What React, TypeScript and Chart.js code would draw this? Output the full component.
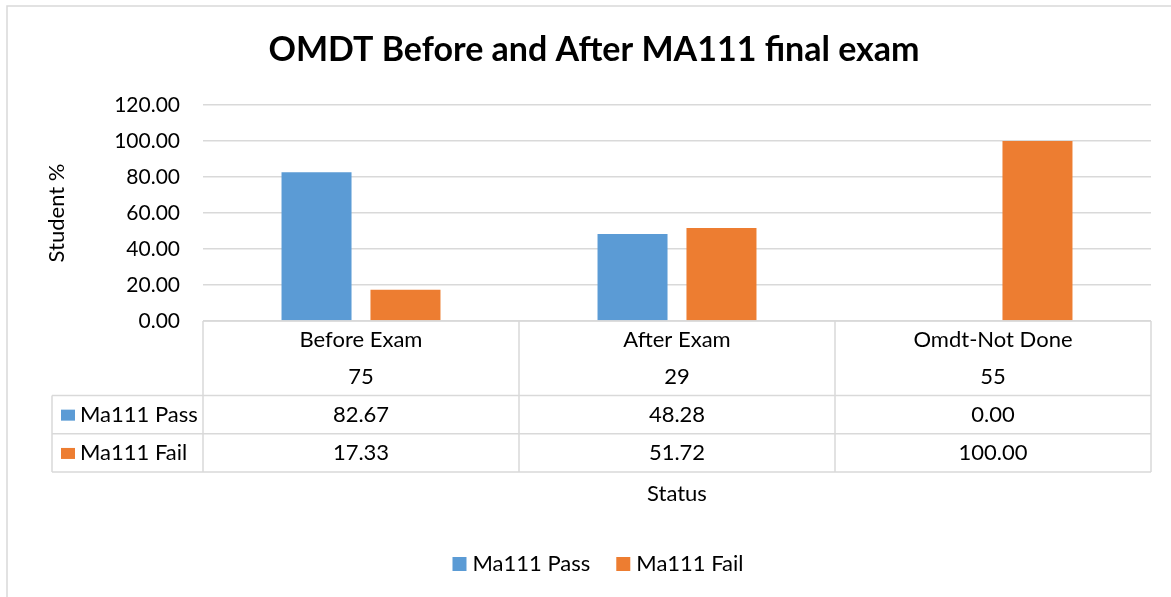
import { useEffect, useRef } from 'react';
import { Chart, registerables } from 'chart.js';

Chart.register(...registerables);

const TITLE = 'OMDT Before and After MA111 final exam';
const categories = ['Before Exam', 'After Exam', 'Omdt-Not Done'];
const studentCounts = [75, 29, 55];
const passValues = [82.67, 48.28, 0.0];
const failValues = [17.33, 51.72, 100.0];
const seriesNames = ['Ma111 Pass', 'Ma111 Fail'];
const seriesColors = ['#5B9BD5', '#ED7D31'];
const yMin = 0;
const yMax = 120;
const yStep = 20;
const xAxisTitle = 'Status';
const yAxisTitle = 'Student %';

const FONT = 'Lato, "Open Sans", sans-serif';
const GRID = '#d9d9d9';
const TEXT = '#000000';
const TEXT_SIZE = 22;

const tableLegendPlugin = {
  id: 'tableLegend',
  beforeDraw(chart: any) {
    const { ctx } = chart;
    ctx.save();
    ctx.strokeStyle = GRID;
    ctx.lineWidth = 1.5;
    ctx.beginPath();
    ctx.moveTo(7, chart.height + 2);
    ctx.lineTo(7, 6);
    ctx.lineTo(chart.width + 2, 6);
    ctx.stroke();
    ctx.restore();
  },
  afterDraw(chart: any) {
    const { ctx, chartArea } = chart;
    const xs = chart.scales.x;
    const labels = chart.data.labels as string[];
    const n = labels.length;
    const colW = (xs.right - xs.left) / n;
    const top = chartArea.bottom;
    const headerBottom = top + 74.5;
    const rowH = 38.3;
    const tableLeft = 52;
    const datasets = chart.data.datasets;
    const bottom = headerBottom + rowH * datasets.length;

    ctx.save();
    ctx.strokeStyle = GRID;
    ctx.lineWidth = 1.5;
    ctx.beginPath();
    ctx.moveTo(xs.left, top);
    ctx.lineTo(xs.right, top);
    for (let i = 0; i <= n; i++) {
      const x = xs.left + i * colW;
      ctx.moveTo(x, top);
      ctx.lineTo(x, bottom);
    }
    ctx.moveTo(tableLeft, headerBottom);
    ctx.lineTo(tableLeft, bottom);
    for (let r = 0; r <= datasets.length; r++) {
      const y = headerBottom + r * rowH;
      ctx.moveTo(tableLeft, y);
      ctx.lineTo(xs.right, y);
    }
    ctx.stroke();

    ctx.fillStyle = TEXT;
    ctx.font = `${TEXT_SIZE}px ${FONT}`;
    ctx.textAlign = 'center';
    ctx.textBaseline = 'middle';
    labels.forEach((lab, i) => {
      const cx = xs.getPixelForValue(i);
      ctx.fillText(lab, cx, top + 19);
      ctx.fillText(String(studentCounts[i]), cx, top + 56);
      datasets.forEach((ds: any, r: number) => {
        ctx.fillText(Number(ds.data[i]).toFixed(2), cx, headerBottom + rowH * (r + 0.5));
      });
    });
    datasets.forEach((ds: any, r: number) => {
      const cy = headerBottom + rowH * (r + 0.5);
      ctx.fillStyle = ds.backgroundColor;
      ctx.fillRect(61, cy - 5, 14, 11);
      ctx.fillStyle = TEXT;
      ctx.textAlign = 'left';
      ctx.fillText(ds.label, 80, cy);
    });

    ctx.textAlign = 'center';
    ctx.fillText(xAxisTitle, (xs.left + xs.right) / 2, 494);

    // legend
    const box = 14;
    const gapText = 6;
    const gapItem = 26;
    const widths = datasets.map((ds: any) => box + gapText + ctx.measureText(ds.label).width);
    const total = widths.reduce((a: number, b: number) => a + b, 0) + gapItem * (datasets.length - 1);
    let lx = 598 - total / 2;
    const ly = 564;
    datasets.forEach((ds: any, r: number) => {
      ctx.fillStyle = ds.backgroundColor;
      ctx.fillRect(lx, ly - 7, box, box);
      ctx.fillStyle = TEXT;
      ctx.textAlign = 'left';
      ctx.fillText(ds.label, lx + box + gapText, ly);
      lx += widths[r] + gapItem;
    });
    ctx.restore();
  },
};

export default function App() {
  const ref = useRef<HTMLCanvasElement>(null);
  useEffect(() => {
    const chart = new Chart(ref.current as HTMLCanvasElement, {
      type: 'bar',
      data: {
        labels: categories,
        datasets: [
          { label: seriesNames[0], data: passValues, backgroundColor: seriesColors[0], categoryPercentage: 0.563, barPercentage: 0.787 },
          { label: seriesNames[1], data: failValues, backgroundColor: seriesColors[1], categoryPercentage: 0.563, barPercentage: 0.787 },
        ],
      },
      options: {
        responsive: false,
        animation: false,
        layout: { padding: { left: 37, right: 20, top: 0, bottom: 276 } },
        plugins: {
          legend: { display: false },
          tooltip: { enabled: false },
          title: {
            display: true,
            text: TITLE,
            color: TEXT,
            font: { family: FONT, size: 34, weight: 'bold' },
            padding: { top: 30, bottom: 34.2 },
          },
        },
        scales: {
          x: { display: false },
          y: {
            min: yMin,
            max: yMax,
            ticks: {
              stepSize: yStep,
              padding: 23,
              color: TEXT,
              font: { family: FONT, size: 21 },
              callback: (v: any) => Number(v).toFixed(2),
            },
            grid: { color: GRID, lineWidth: 1.5, drawTicks: false },
            border: { display: false },
            title: {
              display: true,
              text: yAxisTitle,
              color: TEXT,
              font: { family: FONT, size: TEXT_SIZE },
              padding: { top: 6.8, bottom: 0 },
            },
            afterFit: (s: any) => {
              s.width = 166;
            },
          },
        },
      },
      plugins: [tableLegendPlugin],
    });
    return () => chart.destroy();
  }, []);
  return (
    <div style={{ position: 'fixed', left: 0, top: 0, width: 1171, height: 597, background: '#fff' }}>
      <canvas ref={ref} width={1171} height={597} style={{ display: 'block', width: 1171, height: 597 }} />
    </div>
  );
}
